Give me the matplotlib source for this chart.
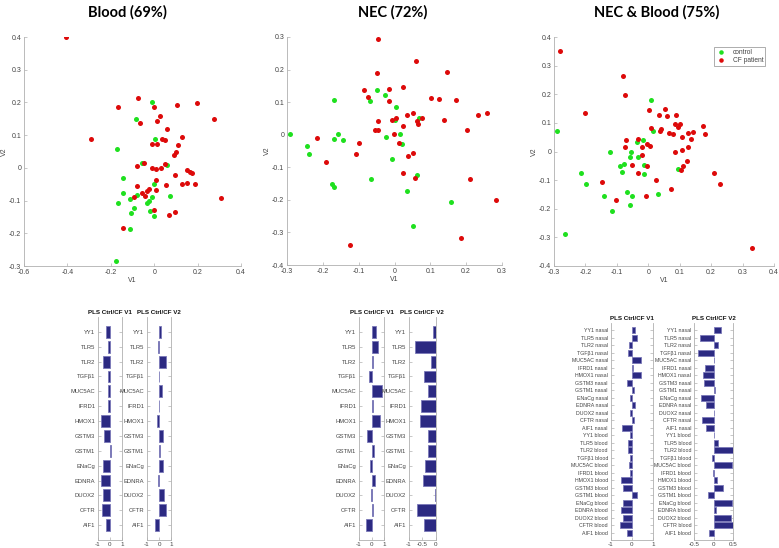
import matplotlib
matplotlib.use("Agg")
import matplotlib.pyplot as plt
from matplotlib.ticker import FuncFormatter

plt.rcParams['font.family'] = ['Liberation Sans', 'DejaVu Sans']
plt.rcParams['axes.unicode_minus'] = False

# ---------------- scatter data ----------------
blood_ctrl_x = [-0.009, -0.084, 0.005, -0.172, -0.057, 0.057, -0.146, -0.002, -0.146, -0.080, 0.071,
                -0.110, -0.011, -0.026, -0.034, -0.166, -0.094, -0.021, -0.107, -0.003, -0.112, -0.178]
blood_ctrl_y = [0.201, 0.150, 0.088, 0.059, 0.015, 0.008, -0.031, -0.048, -0.078, -0.083, -0.086,
                -0.095, -0.088, -0.100, -0.108, -0.108, -0.122, -0.131, -0.139, -0.146, -0.188, -0.285]
blood_cf_x = [-0.405, -0.293, -0.075, -0.166, -0.003, 0.107, 0.195, 0.275, 0.029, 0.011, -0.064, 0.057,
              0.127, 0.034, 0.052, -0.012, 0.012, 0.110, 0.100, 0.089, -0.080, -0.046, -0.008, 0.008,
              0.032, 0.052, 0.098, 0.152, 0.164, 0.175, 0.126, 0.149, 0.187, 0.308, 0.054, 0.009,
              0.009, -0.080, -0.026, -0.032, -0.054, -0.044, -0.092, -0.003, 0.098, 0.069, -0.143]
blood_cf_y = [0.400, 0.087, 0.215, 0.187, 0.187, 0.192, 0.198, 0.148, 0.158, 0.143, 0.136, 0.118,
              0.093, 0.088, 0.084, 0.072, 0.072, 0.071, 0.049, 0.040, 0.007, 0.015, 0.001, -0.005,
              0.001, 0.012, -0.023, -0.008, -0.013, -0.016, -0.048, -0.046, -0.050, -0.093, -0.051, -0.037,
              -0.068, -0.056, -0.065, -0.072, -0.078, -0.085, -0.090, -0.128, -0.135, -0.144, -0.184]

nec_ctrl_x = [-0.049, -0.169, -0.067, -0.026, 0.004, 0.067, 0.000, -0.291, -0.158, -0.168, -0.145, -0.024,
              0.016, 0.020, -0.243, -0.240, -0.007, -0.066, 0.063, -0.174, -0.168, 0.034, 0.158, 0.051]
nec_ctrl_y = [0.136, 0.108, 0.104, 0.121, 0.086, 0.052, 0.044, 0.001, 0.001, -0.014, -0.016, -0.007,
              0.002, -0.030, -0.035, -0.058, -0.074, -0.137, -0.125, -0.151, -0.159, -0.172, -0.207, -0.279]
nec_cf_x = [-0.047, 0.061, -0.050, 0.146, -0.086, -0.014, 0.025, -0.073, -0.015, 0.102, 0.124, 0.172,
            -0.045, -0.008, 0.005, 0.035, 0.053, 0.063, 0.065, 0.077, 0.139, 0.232, 0.257, 0.203,
            -0.054, -0.045, 0.025, -0.001, -0.217, -0.099, 0.013, -0.108, 0.037, 0.051, -0.190,
            0.023, 0.058, 0.210, 0.282, 0.185, -0.124]
nec_cf_y = [0.295, 0.225, 0.188, 0.193, 0.136, 0.141, 0.146, 0.116, 0.104, 0.112, 0.110, 0.106,
            0.041, 0.046, 0.051, 0.059, 0.068, 0.041, 0.034, 0.052, 0.046, 0.061, 0.066, 0.015,
            0.015, 0.015, 0.028, 0.002, -0.011, -0.024, -0.026, -0.059, -0.064, -0.057, -0.085,
            -0.119, -0.133, -0.137, -0.201, -0.316, -0.340]

both_ctrl_x = [0.009, 0.016, -0.290, -0.036, -0.018, -0.054, -0.123, -0.059, -0.034, -0.077, -0.091, -0.014,
               -0.084, -0.015, 0.093, -0.213, -0.198, -0.068, -0.142, -0.052, 0.032, -0.058, -0.117, -0.265]
both_ctrl_y = [0.181, 0.070, 0.071, 0.033, 0.040, 0.000, -0.003, -0.019, -0.020, -0.043, -0.049, -0.047,
               -0.073, -0.078, -0.061, -0.076, -0.112, -0.141, -0.157, -0.157, -0.149, -0.188, -0.209, -0.289]
both_cf_x = [-0.281, -0.079, -0.074, -0.201, 0.001, 0.054, 0.059, 0.035, 0.087, 0.010, 0.040, 0.037,
             0.065, 0.080, 0.085, 0.100, 0.095, 0.125, 0.142, 0.174, 0.180, 0.106, 0.135, -0.070,
             -0.034, -0.074, -0.019, -0.003, 0.007, -0.021, 0.125, 0.084, 0.107, -0.051, -0.005,
             0.124, 0.111, 0.105, -0.033, 0.209, 0.229, -0.147, 0.024, -0.104, -0.008, 0.072, 0.331]
both_cf_y = [0.350, 0.265, 0.197, 0.135, 0.146, 0.149, 0.124, 0.128, 0.128, 0.082, 0.080, 0.072,
             0.063, 0.062, 0.096, 0.096, 0.084, 0.063, 0.068, 0.090, 0.062, 0.051, 0.045, 0.041,
             0.045, 0.014, 0.015, 0.027, 0.019, -0.013, 0.017, -0.002, 0.005, -0.048, -0.049,
             -0.033, -0.049, -0.063, -0.075, -0.075, -0.115, -0.105, -0.101, -0.168, -0.155, -0.132, -0.338]

# ---------------- bar data ----------------
genes = ["YY1", "TLR5", "TLR2", "TGFβ1", "MUC5AC", "IFRD1", "HMOX1", "GSTM3", "GSTM1",
         "ENaCg", "EDNRA", "DUOX2", "CFTR", "AIF1"]
both_labels = [g + " nasal" for g in genes] + [g + " blood" for g in genes]

blood_v1 = [-0.30, -0.15, -0.55, -0.20, -0.20, -0.20, -0.75, -0.50, 0.05, -0.55, -0.75, -0.60, -0.70, -0.35]
blood_v2 = [0.20, -0.12, 0.62, -0.03, 0.28, -0.03, -0.15, 0.30, 0.10, 0.35, -0.08, 0.45, 0.55, -0.30]
nec_v1 = [0.35, 0.55, 0.08, -0.20, 0.80, 0.12, 0.70, -0.38, 0.20, -0.15, 0.30, -0.06, 0.12, -0.45]
nec_v2 = [-0.10, -0.78, -0.18, -0.42, -0.30, -0.54, -0.58, -0.28, -0.30, -0.38, -0.46, -0.03, -0.70, -0.42]
both_v1 = [0.17, 0.25, -0.13, -0.20, 0.45, 0.06, 0.44, -0.23, 0.11, -0.10, 0.17, -0.08, 0.08, -0.45,
           -0.07, -0.18, -0.20, -0.11, -0.14, -0.10, -0.53, -0.40, 0.23, -0.40, -0.50, -0.42, -0.55, -0.25]
both_v2 = [0.19, -0.35, 0.10, -0.39, 0.01, -0.23, -0.26, -0.25, 0.03, -0.31, -0.19, 0.00, -0.29, -0.19,
           0.00, 0.10, 0.48, -0.05, 0.46, -0.02, 0.08, 0.24, -0.15, 0.47, 0.07, 0.44, 0.50, -0.12]

W, H = 779, 548
fig = plt.figure(figsize=(W / 100, H / 100), dpi=100)


def rect(l, t, r, b):
    return [l / W, 1 - b / H, (r - l) / W, (b - t) / H]


GREEN = '#1fe01f'
RED = '#dd0a0a'
SPINE = '#b0b0b0'
TXT = '#444444'
fmt = FuncFormatter(lambda v, p: '%g' % round(v, 3))


def scatter_panel(r, cx, cy, px, py, xlim, ylim, xt, yt, title, tx, legend=False):
    ax = fig.add_axes(rect(*r))
    ax.scatter(cx, cy, s=13, c=GREEN, linewidths=0, label='control', zorder=3)
    ax.scatter(px, py, s=13, c=RED, linewidths=0, label='CF patient', zorder=3)
    ax.set_xlim(*xlim)
    ax.set_ylim(*ylim)
    ax.set_xticks(xt)
    ax.set_yticks(yt)
    ax.xaxis.set_major_formatter(fmt)
    ax.yaxis.set_major_formatter(fmt)
    for s in ['top', 'right']:
        ax.spines[s].set_visible(False)
    for s in ['left', 'bottom']:
        ax.spines[s].set_color(SPINE)
        ax.spines[s].set_linewidth(0.6)
    ax.tick_params(direction='in', length=2, width=0.5, color=SPINE, labelsize=5, labelcolor=TXT, pad=2)
    ax.set_xlabel('V1', fontsize=5, color=TXT, labelpad=1)
    ax.set_ylabel('V2', fontsize=5, color=TXT, labelpad=1)
    fig.text(tx / W, 1 - 12 / H, title, ha='center', va='center', fontsize=10.5,
             fontweight='bold', family=['Lato', 'DejaVu Sans'])
    if legend:
        leg = ax.legend(loc='upper right', fontsize=4.8, frameon=True, fancybox=False,
                        handletextpad=0.9, borderpad=0.3, markerscale=0.9, labelspacing=0.15,
                        handlelength=1.6, bbox_to_anchor=(0.975, 0.97))
        leg.get_frame().set_edgecolor('#888888')
        leg.get_frame().set_linewidth(0.6)
        for t in leg.get_texts():
            t.set_color(TXT)
    return ax


scatter_panel((24, 37, 241, 266), blood_ctrl_x, blood_ctrl_y, blood_cf_x, blood_cf_y,
              (-0.6, 0.4), (-0.3, 0.4), [-0.6, -0.4, -0.2, 0, 0.2, 0.4],
              [-0.3, -0.2, -0.1, 0, 0.1, 0.2, 0.3, 0.4], 'Blood (69%)', 127)
scatter_panel((287, 37, 502, 265), nec_ctrl_x, nec_ctrl_y, nec_cf_x, nec_cf_y,
              (-0.3, 0.3), (-0.4, 0.3), [-0.3, -0.2, -0.1, 0, 0.1, 0.2, 0.3],
              [-0.4, -0.3, -0.2, -0.1, 0, 0.1, 0.2, 0.3], 'NEC (72%)', 393)
scatter_panel((554, 37, 774, 266), both_ctrl_x, both_ctrl_y, both_cf_x, both_cf_y,
              (-0.3, 0.4), (-0.4, 0.4), [-0.3, -0.2, -0.1, 0, 0.1, 0.2, 0.3, 0.4],
              [-0.4, -0.3, -0.2, -0.1, 0, 0.1, 0.2, 0.3, 0.4], 'NEC & Blood (75%)', 657, legend=True)

BAR = '#2c2a82'
BAR_EDGE = '#7a78b8'


def bar_panel(r, labels, vals, xlim, xt, title, lab_fs=4.2):
    ax = fig.add_axes(rect(*r))
    n = len(labels)
    pos = list(range(1, n + 1))
    ax.barh(pos, vals, height=0.8, color=BAR, edgecolor=BAR_EDGE, linewidth=0.6, zorder=3)
    ax.set_ylim(n + 1, 0)
    ax.set_xlim(*xlim)
    ax.set_yticks(pos)
    ax.set_yticklabels(labels)
    ax.set_xticks(xt)
    ax.xaxis.set_major_formatter(fmt)
    for s in ['left', 'right', 'bottom']:
        ax.spines[s].set_color(SPINE)
        ax.spines[s].set_linewidth(0.6)
    ax.spines['top'].set_visible(False)
    ax.tick_params(axis='y', direction='in', length=2, width=0.5, color=SPINE,
                   labelsize=lab_fs, labelcolor=TXT, pad=2, right=True)
    ax.tick_params(axis='x', direction='in', length=2, width=0.5, color=SPINE,
                   labelsize=4.5, labelcolor=TXT, pad=1.5)
    ax.set_title(title, fontsize=4.5, fontweight='bold', pad=2, color='#111111')
    return ax


bar_panel((98, 317, 122, 540), genes, blood_v1, (-1, 1), [-1, 0, 1], 'PLS Ctrl/CF V1')
bar_panel((147, 317, 171, 540), genes, blood_v2, (-1, 1), [-1, 0, 1], 'PLS Ctrl/CF V2')
bar_panel((359, 317, 384, 540), genes, nec_v1, (-1, 1), [-1, 0, 1], 'PLS Ctrl/CF V1')
bar_panel((409, 317, 435.5, 540), genes, nec_v2, (-1, 0), [-1, -0.5, 0], 'PLS Ctrl/CF V2')
bar_panel((610.7, 323, 653, 540), both_labels, both_v1, (-1, 1), [-1, 0, 1], 'PLS Ctrl/CF V1', lab_fs=3.8)
bar_panel((694, 323, 733.3, 540), both_labels, both_v2, (-0.5, 0.5), [-0.5, 0, 0.5], 'PLS Ctrl/CF V2', lab_fs=3.8)

fig.savefig('out.png', dpi=100)
